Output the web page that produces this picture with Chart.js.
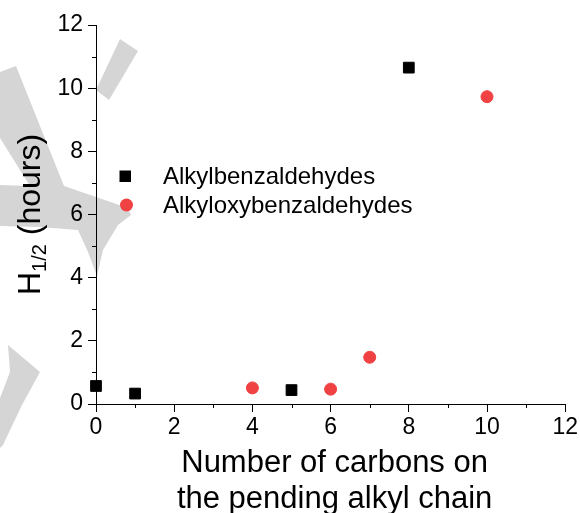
<!DOCTYPE html>
<html lang="en">
  <head>
    <meta charset="UTF-8" />
    <script src="https://cdn.jsdelivr.net/npm/chart.js@4.4.0/dist/chart.umd.min.js"></script>
    <title>H1/2 vs carbons</title>
    <style>
      body {
        margin: 0;
        padding: 0;
        background: #fff;
      }
      .container {
        width: 580px;
        height: 513px;
      }
    </style>
  </head>
  <body>
    <div class="container">
      <canvas id="chart"></canvas>
    </div>
    <script>
      const seriesNames = ['Alkylbenzaldehydes', 'Alkyloxybenzaldehydes']
      const alkylX = [0, 1, 5, 8]
      const alkylY = [0.57, 0.33, 0.44, 10.65]
      const alkyloxyX = [4, 6, 7, 10]
      const alkyloxyY = [0.51, 0.47, 1.48, 9.73]
      const xTicks = [0, 2, 4, 6, 8, 10, 12]
      const yTicks = [0, 2, 4, 6, 8, 10, 12]

      const font = "'Liberation Sans', Arial, sans-serif"
      const toPoints = (xs, ys) => xs.map((x, i) => ({ x: x, y: ys[i] }))

      // grey watermark shapes behind the plot
      const watermark = {
        id: 'watermark',
        beforeDraw(chart) {
          const c = chart.ctx
          c.save()
          c.fillStyle = '#d5d5d5'
          const shapes = [
            [[120, 39], [138, 51], [109, 100], [96, 90]],
            [[0, 72], [16, 66], [64, 186], [128, 208], [131, 215], [118, 225], [103, 250], [97, 276], [88, 252], [78, 230], [40, 227], [0, 226], [0, 185], [30, 186], [0, 138]],
            [[8, 345], [40, 372], [22, 405], [3, 445], [0, 448], [0, 398], [10, 372]],
          ]
          shapes.forEach((pts) => {
            c.beginPath()
            pts.forEach((p, i) => (i ? c.lineTo(p[0], p[1]) : c.moveTo(p[0], p[1])))
            c.closePath()
            c.fill()
          })
          c.restore()
        },
      }

      // minor ticks, axis titles and legend
      const decorations = {
        id: 'decorations',
        afterDraw(chart) {
          const c = chart.ctx
          const xs = chart.scales.x
          const ys = chart.scales.y
          const area = chart.chartArea
          c.save()
          c.strokeStyle = '#000'
          c.lineWidth = 1
          c.beginPath()
          for (let v = 1; v < 12; v += 2) {
            const px = Math.round(xs.getPixelForValue(v)) + 0.5
            c.moveTo(px, area.bottom)
            c.lineTo(px, area.bottom + 4)
            const py = Math.round(ys.getPixelForValue(v)) + 0.5
            c.moveTo(area.left, py)
            c.lineTo(area.left - 4, py)
          }
          c.stroke()

          c.fillStyle = '#000'
          c.textAlign = 'center'
          c.textBaseline = 'alphabetic'
          c.font = '31px ' + font
          const cx = (area.left + area.right) / 2 + 4
          c.fillText('Number of carbons on', cx, 472)
          c.fillText('the pending alkyl chain', cx, 508)

          // y title with subscript
          c.save()
          c.translate(40, (area.top + area.bottom) / 2)
          c.rotate(-Math.PI / 2)
          c.textAlign = 'left'
          const big = '32px ' + font
          const small = '20px ' + font
          c.font = big
          const wH = c.measureText('H').width
          const wRest = c.measureText(' (hours)').width
          c.font = small
          const wSub = c.measureText('1/2').width
          let x0 = -(wH + wSub + wRest) / 2
          c.font = big
          c.fillText('H', x0, 0)
          c.font = small
          c.fillText('1/2', x0 + wH, 6)
          c.font = big
          c.fillText(' (hours)', x0 + wH + wSub, 0)
          c.restore()

          // legend
          const ds = chart.data.datasets
          c.font = '24px ' + font
          c.textAlign = 'left'
          c.fillStyle = ds[0].backgroundColor
          c.fillRect(119.5, 170.5, 11.5, 11.5)
          c.beginPath()
          c.arc(126.5, 205, 6.5, 0, Math.PI * 2)
          c.fillStyle = ds[1].backgroundColor
          c.fill()
          c.fillStyle = '#000'
          c.fillText(seriesNames[0], 163, 184)
          c.fillText(seriesNames[1], 163, 213)
          c.restore()
        },
      }

      const tickFont = { family: font, size: 23 }

      new Chart(document.getElementById('chart').getContext('2d'), {
        type: 'scatter',
        data: {
          datasets: [
            {
              label: seriesNames[0],
              data: toPoints(alkylX, alkylY),
              pointStyle: 'rect',
              pointRadius: 7.6,
              pointHoverRadius: 7.6,
              backgroundColor: '#000000',
              borderColor: '#000000',
              borderWidth: 1,
              clip: false,
            },
            {
              label: seriesNames[1],
              data: toPoints(alkyloxyX, alkyloxyY),
              pointStyle: 'circle',
              pointRadius: 6,
              pointHoverRadius: 6,
              backgroundColor: '#f04242',
              borderColor: '#f04242',
              borderWidth: 1,
              clip: false,
            },
          ],
        },
        options: {
          responsive: true,
          maintainAspectRatio: false,
          animation: false,
          layout: {
            padding: { top: 25, right: 14, left: 0, bottom: 0 },
          },
          plugins: {
            legend: { display: false },
            tooltip: { enabled: false },
          },
          scales: {
            x: {
              type: 'linear',
              min: 0,
              max: 12,
              afterFit: (s) => {
                s.height = 109
              },
              afterBuildTicks: (s) => {
                s.ticks = xTicks.map((v) => ({ value: v }))
              },
              ticks: {
                color: '#000',
                font: tickFont,
                padding: 2,
                maxRotation: 0,
              },
              grid: {
                drawOnChartArea: false,
                drawTicks: true,
                tickLength: 8,
                color: '#000',
              },
              border: { display: true, color: '#000', width: 1 },
            },
            y: {
              type: 'linear',
              min: 0,
              max: 12,
              afterFit: (s) => {
                s.width = 96
              },
              afterBuildTicks: (s) => {
                s.ticks = yTicks.map((v) => ({ value: v }))
              },
              ticks: {
                color: '#000',
                font: tickFont,
                padding: 5,
              },
              grid: {
                drawOnChartArea: false,
                drawTicks: true,
                tickLength: 8,
                color: '#000',
              },
              border: { display: true, color: '#000', width: 1 },
            },
          },
        },
        plugins: [watermark, decorations],
      })
    </script>
  </body>
</html>
